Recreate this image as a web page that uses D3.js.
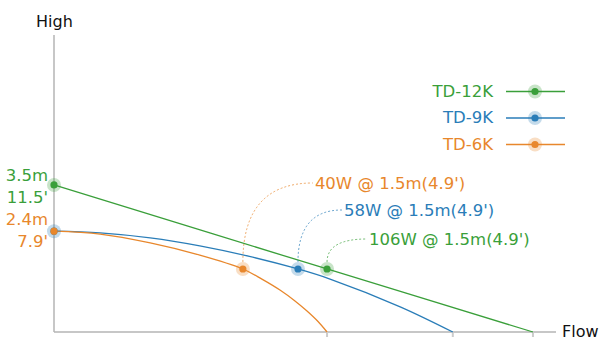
<!DOCTYPE html>
<html>
<head>
<meta charset="utf-8">
<script src="https://cdn.jsdelivr.net/npm/d3@7"></script>
<style>
    body { margin: 0; background: #fff; }
    svg { display: block; font-family: 'DejaVu Sans', sans-serif; }
</style>
</head>
<body>
<div id="chart"></div>
<script>
// pump curves, flow in arbitrary units, head in metres
const seriesNames = ['TD-12K', 'TD-9K', 'TD-6K'];
const seriesColors = ['#3a9f3a', '#2a7db8', '#e8872c'];

const flow12K = [0, 5.45, 9.56];
const head12K = [3.5, 1.5, 0];

const flow9K = [0, 0.92, 1.92, 2.91, 3.9, 4.87, 5.51, 6.91, 7.96];
const head9K = [2.4, 2.36, 2.24, 2.05, 1.8, 1.5, 1.26, 0.6, 0];

const flow6K = [0, 0.92, 1.92, 2.91, 3.77, 4.15, 4.51, 4.81, 5.05, 5.27, 5.45];
const head6K = [2.4, 2.33, 2.12, 1.83, 1.5, 1.26, 1.0, 0.74, 0.5, 0.25, 0];

// operating points and labels
const opFlow = [5.45, 4.87, 3.77];
const opHead = [1.5, 1.5, 1.5];
const opLabels = ["106W @ 1.5m(4.9')", "58W @ 1.5m(4.9')", "40W @ 1.5m(4.9')"];

const startLabels = [['3.5m', "11.5'"], ['2.4m', "7.9'"]];
const startHeads = [3.5, 2.4];
const startColors = ['#3a9f3a', '#e8872c'];

const WIDTH = 601;
const HEIGHT = 354;
const MARGIN = { left: 54, right: 46, top: 35, bottom: 22 };
const FONT = 16.5;

const svg = d3.select('#chart')
    .append('svg')
        .attr('width', WIDTH)
        .attr('height', HEIGHT);

const x = d3.scaleLinear()
    .domain([0, 10])
    .range([MARGIN.left, WIDTH - MARGIN.right]);

const y = d3.scaleLinear()
    .domain([0, 7.07])
    .range([HEIGHT - MARGIN.bottom, MARGIN.top]);

// axes
const axisColor = '#b4b4b4';
svg.append('line')
    .attr('x1', x(0)).attr('x2', x(0))
    .attr('y1', y(0)).attr('y2', y(7.07))
    .attr('stroke', axisColor).attr('stroke-width', 1.5);
svg.append('line')
    .attr('x1', x(0)).attr('x2', x(10.02))
    .attr('y1', y(0)).attr('y2', y(0))
    .attr('stroke', axisColor).attr('stroke-width', 1.5);

// small ticks where the curves hit zero
svg.selectAll('.endtick')
    .data([flow6K[flow6K.length - 1], flow9K[flow9K.length - 1], flow12K[flow12K.length - 1]])
    .enter().append('line')
        .attr('x1', d => x(d)).attr('x2', d => x(d))
        .attr('y1', y(0)).attr('y2', y(0) + 5)
        .attr('stroke', '#cccccc').attr('stroke-width', 2);

svg.append('text')
    .text('High')
    .attr('x', 36).attr('y', 27)
    .attr('font-size', 16).attr('fill', '#111');
svg.append('text')
    .text('Flow')
    .attr('x', 562).attr('y', 337)
    .attr('font-size', 16).attr('fill', '#111');

// curves
const allSeries = [
    { flow: flow12K, head: head12K },
    { flow: flow9K, head: head9K },
    { flow: flow6K, head: head6K },
];

const line = d3.line()
    .x(d => x(d[0]))
    .y(d => y(d[1]))
    .curve(d3.curveCatmullRom.alpha(0.5));

allSeries.forEach(function (s, i) {
    svg.append('path')
        .datum(d3.zip(s.flow, s.head))
        .attr('fill', 'none')
        .attr('stroke', seriesColors[i])
        .attr('stroke-width', 1.3)
        .attr('d', line);
});

function marker(g, cx, cy, color) {
    g.append('circle')
        .attr('cx', cx).attr('cy', cy).attr('r', 7)
        .attr('fill', color).attr('opacity', 0.28);
    g.append('circle')
        .attr('cx', cx).attr('cy', cy).attr('r', 3.6)
        .attr('fill', color);
}

// start markers
marker(svg, x(0), y(head12K[0]), seriesColors[0]);
marker(svg, x(0), y(head9K[0]), seriesColors[1]);
svg.append('circle')
    .attr('cx', x(0)).attr('cy', y(head6K[0])).attr('r', 3.6)
    .attr('fill', seriesColors[2]);

// start labels (metres above the point, feet below)
const startOffsets = [[-4, 18], [-6, 16]];
startLabels.forEach(function (pair, i) {
    const yy = y(startHeads[i]);
    pair.forEach(function (t, j) {
        svg.append('text')
            .text(t)
            .attr('x', 48).attr('y', yy + startOffsets[i][j])
            .attr('text-anchor', 'end')
            .attr('font-size', FONT)
            .attr('fill', startColors[i]);
    });
});

// operating points with leaders
const labelOffsets = [[40, -27], [44, -56], [70, -83]];
opFlow.forEach(function (f, i) {
    const px = x(f);
    const py = y(opHead[i]);
    const tx = px + labelOffsets[i][0];
    const ty = py + labelOffsets[i][1];
    svg.append('path')
        .attr('d', 'M' + px + ',' + (py - 7) + ' Q' + px + ',' + (ty - 3) + ' ' + tx + ',' + (ty - 3))
        .attr('fill', 'none')
        .attr('stroke', seriesColors[i])
        .attr('stroke-opacity', 0.7)
        .attr('stroke-width', 1)
        .attr('stroke-dasharray', '2,2');
    marker(svg, px, py, seriesColors[i]);
    svg.append('text')
        .text(opLabels[i])
        .attr('x', tx + 2).attr('y', ty + 3)
        .attr('font-size', FONT)
        .attr('fill', seriesColors[i]);
});

// legend
seriesNames.forEach(function (name, i) {
    const ly = 91.5 + i * 26.5;
    svg.append('text')
        .text(name)
        .attr('x', 493).attr('y', ly + 5)
        .attr('text-anchor', 'end')
        .attr('font-size', FONT)
        .attr('fill', seriesColors[i]);
    svg.append('line')
        .attr('x1', 506).attr('x2', 565)
        .attr('y1', ly).attr('y2', ly)
        .attr('stroke', seriesColors[i]).attr('stroke-width', 1.5);
    marker(svg, 535, ly, seriesColors[i]);
});
</script>
</body>
</html>
